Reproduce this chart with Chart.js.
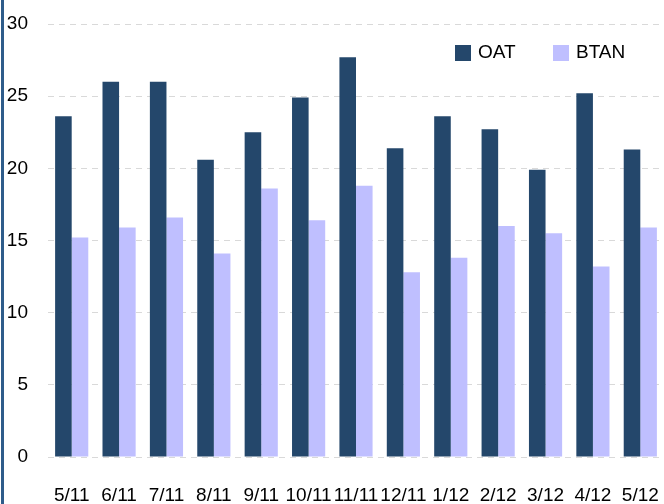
<!DOCTYPE html>
<html>
<head>
<meta charset="utf-8">
<script src="https://cdn.jsdelivr.net/npm/chart.js@4/dist/chart.umd.min.js"></script>
<style>
  html, body { margin: 0; padding: 0; background: #fff; }
  #wrap { width: 664px; height: 504px; position: relative; }
</style>
</head>
<body>
<div id="wrap"><canvas id="mycanvas"></canvas></div>
<script>
var months = ['5/11', '6/11', '7/11', '8/11', '9/11', '10/11', '11/11', '12/11', '1/12', '2/12', '3/12', '4/12', '5/12'];
var oat = [23.6, 26.0, 26.0, 20.6, 22.5, 24.9, 27.7, 21.4, 23.6, 22.7, 19.9, 25.2, 21.3];
var btan = [15.2, 15.9, 16.6, 14.1, 18.6, 16.4, 18.8, 12.8, 13.8, 16.0, 15.5, 13.2, 15.9];

var font = "'Liberation Sans', Arial, sans-serif";

// left blue rule + legend inside the plot
var decor = {
	id: 'decor',
	beforeDraw: function(chart) {
		var c = chart.ctx;
		c.save();
		c.fillStyle = '#2E5C8A';
		c.fillRect(1, 0, 3, chart.height);
		c.restore();
	},
	afterDraw: function(chart) {
		var c = chart.ctx;
		var xs = [455, 553];
		c.save();
		c.font = '19px ' + font;
		c.textBaseline = 'middle';
		chart.data.datasets.forEach(function(ds, i) {
			c.fillStyle = ds.backgroundColor;
			c.fillRect(xs[i], 45, 16, 16);
			c.fillStyle = '#000';
			c.fillText(ds.label, xs[i] + 23, 53);
		});
		c.restore();
	}
};

var chartdata = {
	labels: months,
	datasets: [
		{ label: 'OAT', backgroundColor: '#24476B', data: oat },
		{ label: 'BTAN', backgroundColor: '#BFBFFF', data: btan }
	]
};

var ctx = document.getElementById('mycanvas');
var barGraph = new Chart(ctx, {
	type: 'bar',
	data: chartdata,
	plugins: [decor],
	options: {
		responsive: true,
		maintainAspectRatio: false,
		animation: false,
		layout: { padding: { top: 24, right: 0, left: 0, bottom: 0 } },
		datasets: { bar: { categoryPercentage: 0.7, barPercentage: 1.0 } },
		plugins: { legend: { display: false }, tooltip: { enabled: false } },
		scales: {
			x: {
				grid: { display: false, drawTicks: false },
				border: { display: false },
				ticks: { autoSkip: false, maxRotation: 0, padding: 27, color: '#000', font: { family: font, size: 19 } },
				afterFit: function(s) {
					s.height = 47;
					s.paddingLeft = 0;
					s.paddingRight = 0;
				}
			},
			y: {
				min: 0, max: 30,
				grid: { color: '#D9D9D9', drawTicks: false },
				border: { display: false, dash: [6, 5] },
				ticks: { stepSize: 5, padding: 20, color: '#000', font: { family: font, size: 19 } },
				afterFit: function(s) {
					s.width = 48;
					s.paddingTop = 0;
					s.paddingBottom = 0;
				}
			}
		}
	}
});
</script>
</body>
</html>
